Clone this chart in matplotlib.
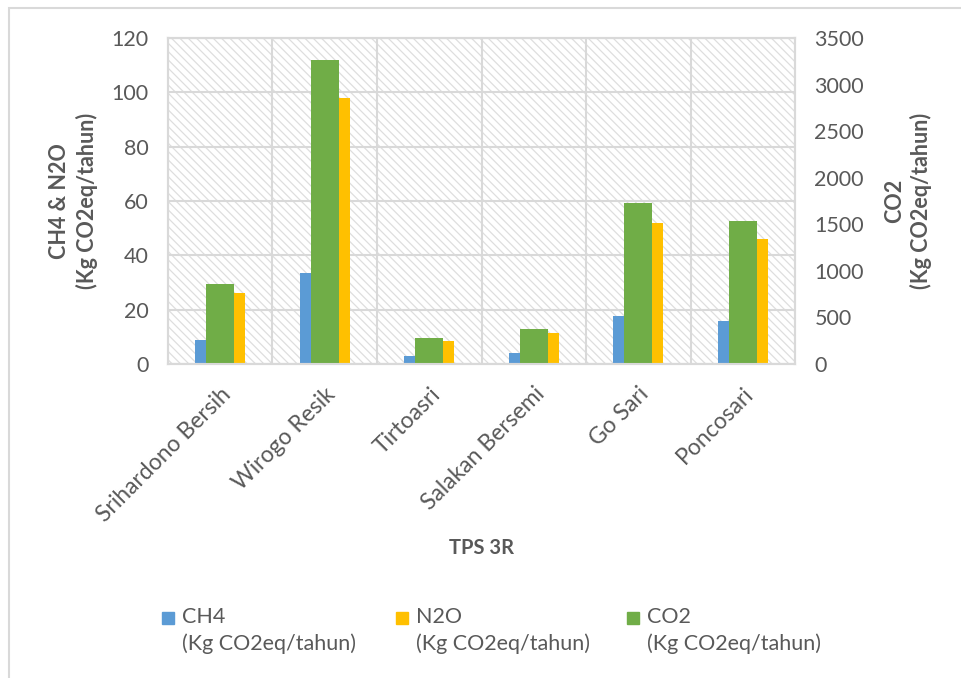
import matplotlib.pyplot as plt
import numpy as np
from matplotlib.patches import Rectangle

# data
sites = ['Srihardono Bersih', 'Wirogo Resik', 'Tirtoasri',
         'Salakan Bersemi', 'Go Sari', 'Poncosari']
ch4 = [8.8, 33.4, 2.9, 3.9, 17.7, 15.7]
n2o = [26.0, 98.0, 8.5, 11.3, 51.9, 46.1]
co2 = [862, 3262, 281, 378, 1726, 1536]
unit = '(Kg CO2eq/tahun)'

plt.rcParams['font.family'] = ['Lato', 'DejaVu Sans']
plt.rcParams['hatch.linewidth'] = 0.9
txt = '#595959'
grid = '#d9d9d9'
colors = ['#5b9bd5', '#ffc000', '#70ad47']

fig = plt.figure(figsize=(9.61, 6.78), dpi=100)
ax = fig.add_axes([0.1748, 0.4631, 0.6525, 0.4809])
ax2 = ax.twinx()

x = np.arange(len(sites))
w = 0.24
ax.bar(x - w / 2, ch4, w, color=colors[0], zorder=2)
ax.bar(x + w / 2, n2o, w, color=colors[1], zorder=2)
ax2.bar(x, co2, 0.27, color=colors[2], zorder=2)

ax.set_xlim(-0.5, len(sites) - 0.5)
ax.set_ylim(0, 120)
ax.set_yticks(range(0, 121, 20))
ax2.set_ylim(0, 3500)
ax2.set_yticks(range(0, 3501, 500))

# hatched plot area
ax.patch.set_facecolor('white')
ax.patch.set_hatch('\\\\\\\\')
ax.patch.set_edgecolor('#dedede')

ax.grid(axis='y', color=grid, linewidth=1.5, zorder=1)
for xv in np.arange(0.5, len(sites) - 0.5, 1):
    ax.axvline(xv, color=grid, linewidth=1.5, zorder=1)
ax.set_axisbelow(True)

for a in (ax, ax2):
    for s in a.spines.values():
        s.set_color(grid)
        s.set_linewidth(1.5)
    a.tick_params(length=0, labelsize=15.5, colors=txt, pad=14)

ax.set_xticks(x)
ax.set_xticklabels(sites, rotation=45, ha='right', rotation_mode='anchor',
                   fontsize=16.5)
ax.tick_params(axis='x', pad=14)

ax.set_ylabel('CH4 & N2O\n' + unit, fontsize=15.5, fontweight='bold',
              color=txt, labelpad=10, linespacing=1.3)
ax2.set_ylabel('CO2\n' + unit, fontsize=15.5, fontweight='bold',
               color=txt, labelpad=14, linespacing=1.3)
ax.set_xlabel('TPS 3R', fontsize=14.5, fontweight='bold', color=txt)
ax.xaxis.set_label_coords(0.5, -0.535)

# legend, marker beside the first line as in the reference
names = ['CH4', 'N2O', 'CO2']
leg_x = [162, 396, 627]
W, H = 961, 678
for name, c, lx in zip(names, colors, leg_x):
    fig.add_artist(Rectangle((lx / W, 1 - 624 / H), 12 / W, 12 / H,
                             transform=fig.transFigure, color=c))
    fig.text((lx + 20) / W, 1 - 617 / H, name, fontsize=15.5, color=txt,
             va='center', ha='left')
    fig.text((lx + 20) / W, 1 - 644 / H, unit, fontsize=15.5, color=txt,
             va='center', ha='left')

# chart border
fig.add_artist(Rectangle((0.009, -0.05), 1.1, 1.038, transform=fig.transFigure,
                         fill=False, edgecolor=grid, linewidth=1.5))

fig.savefig('out.png', dpi=100)
